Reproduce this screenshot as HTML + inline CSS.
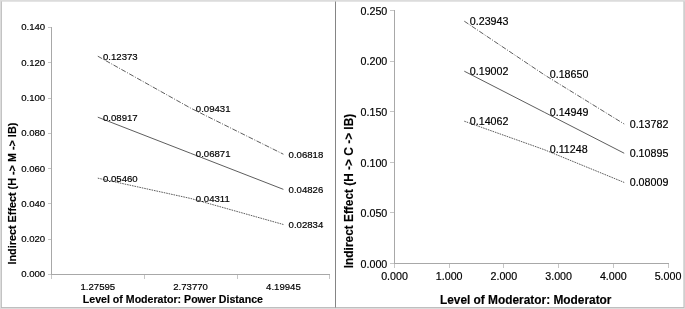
<!DOCTYPE html>
<html><head><meta charset="utf-8"><title>Indirect Effect Charts</title>
<style>
html,body{margin:0;padding:0;background:#fff;}
body{width:685px;height:309px;overflow:hidden;position:relative;}
svg{position:absolute;left:0;top:0;display:block;}
text{font-family:"Liberation Sans",Arial,Helvetica,sans-serif;fill:#000;stroke:#000;stroke-width:0.18;}
.b{font-weight:bold;stroke-width:0.15;}
.ax{stroke:#a8a8a8;stroke-width:1;fill:none;shape-rendering:crispEdges;}
.tk{stroke:#c6c6c6;stroke-width:1;fill:none;shape-rendering:crispEdges;}
.ln{stroke:#333;stroke-width:0.8;fill:none;}
</style></head><body>
<svg width="685" height="309" viewBox="0 0 685 309">
<rect x="0" y="0" width="685" height="309" fill="#dcdcdc"/>
<rect x="1" y="1.5" width="683.3" height="306.4" fill="#b4b4b4"/>
<rect x="1.8" y="1.5" width="681.7" height="305.6" fill="#ffffff"/>
<rect x="335" y="1.5" width="1" height="306" fill="#858585"/>

<g class="ax">
<path d="M51.5 27.0 V275.0"/>
<path d="M51.5 274.5 H330.0"/>
<path class="tk" d="M51.5 275.0 V278.5"/>
<path class="tk" d="M47.5 274.5 H51.0"/>
<path class="tk" d="M47.5 239.5 H51.0"/>
<path class="tk" d="M47.5 203.5 H51.0"/>
<path class="tk" d="M47.5 168.5 H51.0"/>
<path class="tk" d="M47.5 133.5 H51.0"/>
<path class="tk" d="M47.5 98.5 H51.0"/>
<path class="tk" d="M47.5 62.5 H51.0"/>
<path class="tk" d="M47.5 27.5 H51.0"/>
<path class="tk" d="M144.5 275.0 V278.5"/>
<path class="tk" d="M237.5 275.0 V278.5"/>
<path class="tk" d="M329.5 275.0 V278.5"/>
</g>
<text x="45.2" y="277.4" font-size="9.6" text-anchor="end">0.000</text>
<text x="45.2" y="242.11" font-size="9.6" text-anchor="end">0.020</text>
<text x="45.2" y="206.83" font-size="9.6" text-anchor="end">0.040</text>
<text x="45.2" y="171.54" font-size="9.6" text-anchor="end">0.060</text>
<text x="45.2" y="136.26" font-size="9.6" text-anchor="end">0.080</text>
<text x="45.2" y="100.97" font-size="9.6" text-anchor="end">0.100</text>
<text x="45.2" y="65.69" font-size="9.6" text-anchor="end">0.120</text>
<text x="45.2" y="30.4" font-size="9.6" text-anchor="end">0.140</text>
<text x="97.8" y="290.4" font-size="9.6" text-anchor="middle">1.27595</text>
<text x="190.6" y="290.4" font-size="9.6" text-anchor="middle">2.73770</text>
<text x="283.4" y="290.4" font-size="9.6" text-anchor="middle">4.19945</text>
<text class="b" x="172.9" y="302.6" font-size="10.6" text-anchor="middle">Level of Moderator: Power Distance</text>
<text class="b" transform="translate(15.5,193.6) rotate(-90)" font-size="10.82" text-anchor="middle">Indirect Effect (H -&gt; M -&gt; IB)</text>
<polyline class="ln" points="97.8,56.2 190.6,108.11 283.4,154.21" stroke-dasharray="5 1.5 1 1.5"/>
<text x="103" y="59.9" font-size="9.6">0.12373</text>
<text x="195.8" y="111.81" font-size="9.6">0.09431</text>
<text x="288.6" y="157.91" font-size="9.6">0.06818</text>
<polyline class="ln" points="97.8,117.18 190.6,153.28 283.4,189.36"/>
<text x="103" y="120.88" font-size="9.6">0.08917</text>
<text x="195.8" y="156.98" font-size="9.6">0.06871</text>
<text x="288.6" y="193.06" font-size="9.6">0.04826</text>
<polyline class="ln" points="97.8,178.17 190.6,198.44 283.4,224.5" stroke-dasharray="1.6 0.9"/>
<text x="103" y="181.87" font-size="9.6">0.05460</text>
<text x="195.8" y="202.14" font-size="9.6">0.04311</text>
<text x="288.6" y="228.2" font-size="9.6">0.02834</text>
<g class="ax">
<path d="M394.5 10.0 V264.0"/>
<path d="M394.5 263.5 H668.5"/>
<path class="tk" d="M394.5 264.0 V267.5"/>
<path class="tk" d="M389.5 263.5 H394.0"/>
<path class="tk" d="M389.5 212.5 H394.0"/>
<path class="tk" d="M389.5 162.5 H394.0"/>
<path class="tk" d="M389.5 111.5 H394.0"/>
<path class="tk" d="M389.5 61.5 H394.0"/>
<path class="tk" d="M389.5 10.5 H394.0"/>
<path class="tk" d="M449.5 264.0 V267.5"/>
<path class="tk" d="M503.5 264.0 V267.5"/>
<path class="tk" d="M558.5 264.0 V267.5"/>
<path class="tk" d="M613.5 264.0 V267.5"/>
<path class="tk" d="M668.5 264.0 V267.5"/>
</g>
<text x="387.3" y="267.8" font-size="10.7" text-anchor="end">0.000</text>
<text x="387.3" y="217.2" font-size="10.7" text-anchor="end">0.050</text>
<text x="387.3" y="166.6" font-size="10.7" text-anchor="end">0.100</text>
<text x="387.3" y="116" font-size="10.7" text-anchor="end">0.150</text>
<text x="387.3" y="65.4" font-size="10.7" text-anchor="end">0.200</text>
<text x="387.3" y="14.8" font-size="10.7" text-anchor="end">0.250</text>
<text x="394.5" y="280.4" font-size="10.7" text-anchor="middle">0.000</text>
<text x="449.2" y="280.4" font-size="10.7" text-anchor="middle">1.000</text>
<text x="503.9" y="280.4" font-size="10.7" text-anchor="middle">2.000</text>
<text x="558.6" y="280.4" font-size="10.7" text-anchor="middle">3.000</text>
<text x="613.3" y="280.4" font-size="10.7" text-anchor="middle">4.000</text>
<text x="668" y="280.4" font-size="10.7" text-anchor="middle">5.000</text>
<text class="b" x="525.7" y="303.7" font-size="11.88" text-anchor="middle">Level of Moderator: Moderator</text>
<text class="b" transform="translate(353,191) rotate(-90)" font-size="11.88" text-anchor="middle">Indirect Effect (H -&gt; C -&gt; IB)</text>
<polyline class="ln" points="464.29,21.2 544.25,74.76 624.21,124.03" stroke-dasharray="5 1.5 1 1.5"/>
<text x="469.79" y="24.8" font-size="10.7">0.23943</text>
<text x="549.75" y="78.36" font-size="10.7">0.18650</text>
<text x="629.71" y="127.63" font-size="10.7">0.13782</text>
<polyline class="ln" points="464.29,71.2 544.25,112.22 624.21,153.24"/>
<text x="469.79" y="74.8" font-size="10.7">0.19002</text>
<text x="549.75" y="115.82" font-size="10.7">0.14949</text>
<text x="629.71" y="156.84" font-size="10.7">0.10895</text>
<polyline class="ln" points="464.29,121.19 544.25,149.67 624.21,182.45" stroke-dasharray="1.6 0.9"/>
<text x="469.79" y="124.79" font-size="10.7">0.14062</text>
<text x="549.75" y="153.27" font-size="10.7">0.11248</text>
<text x="629.71" y="186.05" font-size="10.7">0.08009</text>
</svg></body></html>
